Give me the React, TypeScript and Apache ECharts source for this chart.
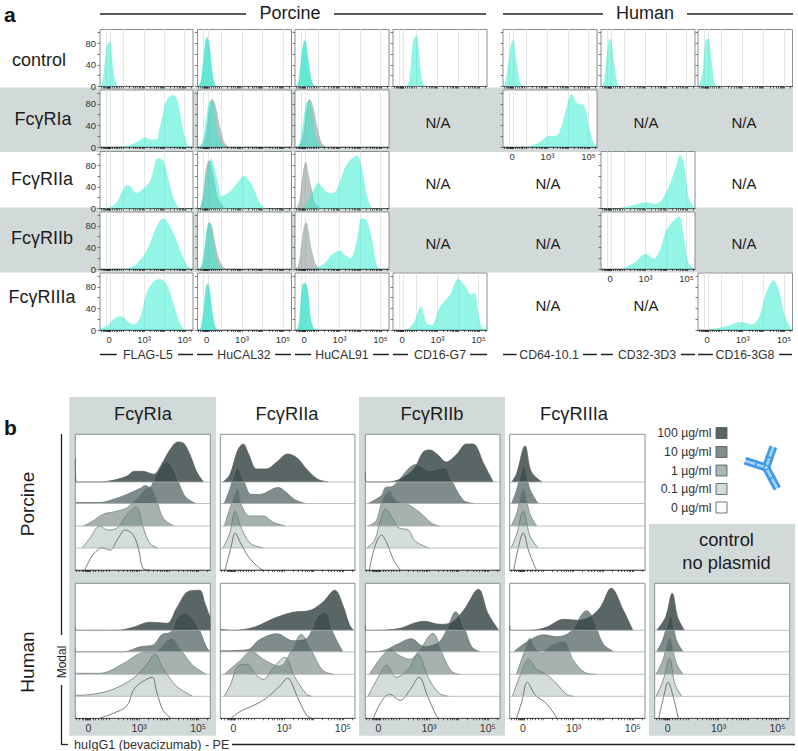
import React, { useEffect, useRef } from "react";
import * as echarts from "echarts";

type Pts = number[][];
const FONT = "Liberation Sans";

// ---------- tick labels / categories ----------
const xTickLabels = ["0", "10³", "10⁵"];
const rowLabelsA = ["control", "FcγRIa", "FcγRIIa", "FcγRIIb", "FcγRIIIa"];
const antibodies = ["FLAG-L5", "HuCAL32", "HuCAL91", "CD16-G7", "CD64-10.1", "CD32-3D3", "CD16-3G8"];
const receptorsB = ["FcγRIa", "FcγRIIa", "FcγRIIb", "FcγRIIIa"];
const doses = ["100 µg/ml", "10 µg/ml", "1 µg/ml", "0.1 µg/ml", "0 µg/ml"];
const yTicksA = [0, 20, 40, 60, 80, 100];
const yLabelsA = [0, 40, 80];

// ---------- panel a, teal = receptor, grey = isotype control ----------
const ctlFlag: Pts = [[0,0],[1,0],[3,12],[5,40],[7,72],[9,80],[11,84],[13,50],[15,22],[17,6],[19,0]];
const ctlCal32: Pts = [[1,0],[2,3],[4,15],[6,45],[8,78],[10,92],[12,85],[14,58],[16,25],[18,7],[20,0]];
const ctlCal91: Pts = [[2,0],[4,12],[6,42],[8,72],[10.5,86],[12,78],[14,52],[16,28],[18,10],[20,2],[22,0]];
const ctlG7: Pts = [[13,0],[15,3],[17,10],[19,38],[21,80],[23,92],[25,94],[27,75],[29,35],[31,12],[33,3],[35,0]];
const ctl64: Pts = [[1.5,0],[3,10],[5,35],[7,60],[9,82],[11,86],[13,65],[15,38],[17,15],[19,3],[21,0]];
const ctl32: Pts = [[1.5,0],[3,8],[5,32],[7,70],[9,88],[10.5,88],[12,72],[14,42],[16,18],[18,3],[20,0]];
const ctl3G8: Pts = [[1,0],[2.5,8],[5,30],[7,68],[9,88],[11,88],[13,68],[15,38],[17,12],[19,2],[21,0]];

const r1Flag: Pts = [[14,0],[25,1],[36,6],[45,15],[49,17.5],[54,14],[61,14],[64,34],[68,62],[71,84],[77,96],[80,96],[84,81],[89,34],[93,9],[96,1],[99,0]];
const r1Cal32: Pts = [[2,0],[5,8],[8,35],[11,72],[13,85],[15,86],[17,78],[19,55],[21,30],[24,12],[27,3],[30,0]];
const r1Cal32Iso: Pts = [[3,0],[6,5],[9,22],[12,60],[14,82],[15.5,89],[18,82],[20,68],[23,42],[26,20],[29,6],[33,0]];
const r1Cal91: Pts = [[2,0],[5,8],[8,38],[11,74],[13,85],[15,84],[17,74],[19,52],[21,28],[24,10],[27,2],[30,0]];
const r1Cal91Iso: Pts = [[3,0],[6,6],[9,24],[12,62],[14,84],[15.5,89],[18,80],[20,66],[23,40],[26,18],[29,5],[33,0]];
const r1_64: Pts = [[18,0],[29,2],[39,9],[48,20],[57,21],[62,37],[68,75],[73,98],[79,81],[86,78],[91,41],[96,9],[100,0]];

const r2Flag: Pts = [[0,0],[11,2.5],[18,11],[23,29],[29,43],[32,42],[39,29],[46,36],[54,51],[59,82],[62,93],[68,89],[73,57],[79,20],[84,2.5],[89,0]];
const r2Cal32: Pts = [[3,1],[7,32],[10,70],[13,89],[14.5,92],[17,82],[21,54],[24,26],[25,23],[35,32],[44,51],[49,61],[54,54],[60,36],[65,14],[70,2.5],[74,0]];
const r2Cal32Iso: Pts = [[3,0],[6,20],[9,70],[12.4,89],[15,76],[19,39],[22,17],[28,2.5],[31,0]];
const r2Cal91: Pts = [[9,0],[14,14],[20,36],[25,48],[28,42],[36,29],[41,29],[48,51],[55,82],[66,98],[71,76],[77,20],[82,1],[85,0]];
const r2Cal91Iso: Pts = [[2,0],[5,14],[8,57],[11.4,86],[14,64],[18,32],[21,11],[27,0]];
const r2_32: Pts = [[17,0],[35,6],[47,11],[58,8],[67,22],[75,53],[81,84],[84,100],[88,84],[93,22],[99,2]];

const r3Flag: Pts = [[25,0],[36,5],[46,23],[54,48],[61,79],[68,94],[73,85],[79,66],[86,36],[93,8],[98,0]];
const r3Cal32: Pts = [[2,0],[4,6],[7,36],[10,76],[12,86],[14,82],[17,50],[20,20],[23,5],[26,0]];
const r3Cal32Iso: Pts = [[3,0],[6,8],[9,50],[11,78],[13,86],[15,80],[18,52],[21,28],[24,12],[27,3],[30,0]];
const r3Cal91: Pts = [[20,0],[23,2],[32,11],[39,26],[48,34],[53,26],[59,20],[66,54],[71,94],[76,91],[82,54],[87,5],[91,0]];
const r3Cal91Iso: Pts = [[1,0],[4,8],[7,44],[10,80],[12,86],[14,72],[16,48],[19,24],[22,8],[25,1],[27,0]];
const r3_32: Pts = [[24,2],[35,11],[48,28],[56,19],[63,36],[70,73],[83,97],[88,60],[93,11],[99,1]];

const r4Flag: Pts = [[0,3],[9,9],[16,22],[23,25],[30,15],[36,10],[43,22],[50,68],[57,89],[64,95],[71,86],[79,49],[86,12],[91,0]];
const r4Cal32: Pts = [[2,0],[4,8],[7,46],[9,80],[11,86],[13,75],[15,46],[17,22],[19,6],[21,0]];
const r4Cal91: Pts = [[2,0],[4,10],[6,50],[8,84],[10.5,87],[13,80],[15,55],[17,20],[20,3],[23,1],[30,0]];
const r4G7: Pts = [[14.6,0],[21.6,12],[29.8,43],[35.8,12],[41,9],[50,43],[60.6,65],[69.5,95],[76.6,82],[83.7,66],[87,69],[90.9,30],[94.4,4],[98,1],[99.8,12]];
const r4_3G8: Pts = [[12,1],[30,7],[46,15],[57,10],[65,25],[72,68],[80,92],[85,77],[92,25],[99,1]];

// ---------- panel b, heights above each ridge's baseline ----------
const pIa100: Pts = [[0,23],[0.7,0],[18,0],[28,1.7],[38,5.7],[44,10.7],[50,10.7],[58,7.7],[64,18],[70,32],[76,40],[80,39],[85,27],[90,10],[95,0]];
const pIa10: Pts = [[0,1],[18,1],[28,4],[38,9],[48,15],[52,18],[55,16],[60,29],[68,42],[73,34],[78,16],[82,6],[89,0]];
const pIa1: Pts = [[6,0],[13,5],[21,12],[28,14],[38,18],[45,27],[55,39],[60,27],[65,8],[73,0]];
const pIa01: Pts = [[5,0],[11,10],[18,22],[24,18],[31,20],[38,33],[45,41],[50,22],[55,5],[61,0]];
const pIa0: Pts = [[7,0],[13,15],[20,22],[26,20],[31,30],[37,40],[43,35],[47,20],[50,2],[55,0]];

const pIIa100: Pts = [[2,0],[7,7],[13,32],[17,38],[21,28],[27,13],[34,13],[42,20],[50,28],[57,24],[64,13],[72,3],[80,0]];
const pIIa10: Pts = [[3,0],[7,14],[13,36],[17,24],[23,9],[29,9],[43,16],[49,11],[55,4],[63,0]];
const pIIa1: Pts = [[3,0],[7,17],[13,37],[16,20],[22,10],[32,10],[39,4],[48,0]];
const pIIa01: Pts = [[2,0],[7,15],[11,37],[15,22],[22,5],[32,0]];
const pIIa0: Pts = [[3.5,0],[8,23],[11,37],[15,27],[21,13],[29,2],[32,0]];

const pIIb100: Pts = [[0,10],[0.7,0],[16,0],[26,3],[36,13],[43,30],[48,32],[54,27],[60,20],[68,28],[75,38],[80,38],[88,18],[95,0]];
const pIIb10: Pts = [[2,0],[12,8],[15,16],[20,17],[26,25],[33,36],[38,39],[48,33],[59,36],[64,23],[73,3],[81,0]];
const pIIb1: Pts = [[2,0],[8,5],[12,23],[15,32],[18,35],[23,25],[31,22],[41,13],[49,3],[55,0]];
const pIIb01: Pts = [[1,0],[7,8],[11,27],[15,39],[20,30],[25,20],[32,18],[37,7],[47,0]];
const pIIb0: Pts = [[3,0],[7,23],[12,35],[16,27],[21,10],[26,0]];

const pIIIa100: Pts = [[1.5,0],[5,8],[11.3,36],[16,10],[24,0]];
const pIIIa10: Pts = [[1.5,0],[5,13],[10.5,37],[15,14],[21,0]];
const pIIIa1: Pts = [[1,0],[5,12],[10,37],[15,12],[20,0]];
const pIIIa01: Pts = [[1,0],[5,13],[10,37],[15,12],[21,0]];
const pIIIa0: Pts = [[3,0],[6,20],[10,37],[14,19],[19,2],[20,0]];

const hIa100: Pts = [[0,3],[0.7,0],[31,0],[43,3],[55,8],[68,7],[75,22],[84,39],[92,40],[96,27],[100,12]];
const hIa10: Pts = [[0,3],[0.7,0],[36,0],[48,5],[58,7],[64,17],[71,20],[75,33],[81,39],[90,27],[97,5],[100,0]];
const hIa1: Pts = [[0,1],[18,1],[36,11],[48,21],[60,23],[71,36],[79,23],[87,9],[97,0]];
const hIa01: Pts = [[0,1],[13,2],[28,7],[43,18],[53,32],[59,42],[65,28],[75,10],[87,0]];
const hIa0: Pts = [[18,0],[28,5],[38,12],[43,28],[48,35],[57,41],[60,28],[65,8],[71,0]];

const hIIa100: Pts = [[0,1],[10,0],[25,3],[40,12],[54,18],[67,20],[76,28],[85,40],[91,25],[96,5],[99,0]];
const hIIa10: Pts = [[0,1],[20,2],[29,12],[42,18],[54,11],[64,13],[72,35],[78,40],[84,18],[91,0]];
const hIIa1: Pts = [[3,0],[15,14],[23,23],[32,15],[44,8],[53,24],[60,40],[68,23],[76,4],[84,0]];
const hIIa01: Pts = [[3,0],[8,13],[13,30],[20,32],[26,22],[32,17],[39,28],[48,39],[55,20],[64,2],[68,0]];
const hIIa0: Pts = [[8,0],[15,7],[25,13],[34,20],[44,32],[50,40],[57,22],[64,3],[68,0]];

const hIIb100: Pts = [[0,5],[0.7,0],[8,0],[26,2],[36,7],[44,9],[55,6],[63,7],[73,20],[84,41],[91,17],[99,0]];
const hIIb10: Pts = [[0,2],[1,0],[13,1],[23,7],[34,13],[44,5],[55,10],[62,27],[67,40],[74,22],[79,5],[85,0]];
const hIIb1: Pts = [[3,0],[13,19],[19,25],[25,19],[33,15],[41,26],[50,41],[58,18],[64,3],[70,0]];
const hIIb01: Pts = [[2,0],[10,20],[16,31],[23,19],[32,27],[39,42],[47,18],[55,3],[62,0]];
const hIIb0: Pts = [[6,0],[12,17],[18,24],[26,18],[33,28],[40,41],[46,23],[53,2],[55,0]];

const hIIIa100: Pts = [[0,5],[0.7,0],[15,0],[27,3],[40,11],[50,10],[59,13],[67,23],[75,42],[84,20],[91,0]];
const hIIIa10: Pts = [[3,0],[13,10],[25,17],[35,15],[45,20],[57,41],[62,32],[69,8],[77,0]];
const hIIIa1: Pts = [[5,0],[11,23],[15,36],[19,26],[24,21],[30,29],[40,33],[47,14],[57,1],[64,0]];
const hIIIa01: Pts = [[2,0],[9,25],[14,37],[20,27],[27,22],[35,12],[42,2],[47,0]];
const hIIIa0: Pts = [[5,0],[9,17],[13,36],[19,23],[27,15],[35,0]];

const ctrl100: Pts = [[1.5,0],[8,13],[13,37],[17,13],[22,0]];
const ctrl10: Pts = [[1.5,0],[6,12],[12,36],[16,12],[21,0]];
const ctrl1: Pts = [[1,0],[6,14],[11,36],[16,11],[21,0]];
const ctrl01: Pts = [[1,0],[6,15],[11,38],[15,12],[20,0]];
const ctrl0: Pts = [[3,0],[6,18],[10,36],[14,20],[17.5,0]];

// ---------- axis positions (share of panel width) ----------
const xTickPos = [9.7, 47.3, 91];
const xGridPos = [6.5, 11, 25, 47.3, 69, 91];
const xTicks = [1, 3, 5, 6, 7, 7.5, 8, 8.5, 9, 9.5, 10, 10.5, 11, 13, 15, 17, 19, 21, 23, 25, 31.6, 35.5, 38.2, 40.4, 42.1, 43.6, 44.9, 46, 47.3, 53.9, 57.8, 60.5, 62.7, 64.4, 65.9, 67.2, 68.3, 69.3, 76, 80, 82.6, 84.8, 86.6, 88, 89.3, 90.4, 91.4, 98];

// ---------- layout ----------
const colXA = [[100, 193], [197.5, 291.5], [295, 389], [393, 487], [503, 597], [601, 695], [698, 792.5]];
const rowYA = [[29.5, 86.5], [90, 147], [151.5, 208.5], [212, 269], [273, 330]];
const colXB = [[75.3, 210.3], [220.3, 355], [365.3, 500], [509.7, 645], [654.7, 789.7]];
const rowYB = [[434.3, 570], [583.3, 718.3]];
const baselines = [88, 66.5, 44, 22, 0];
const BAND = "#d1dad9";
const TEAL = "rgba(40,235,205,0.5)";
const TEAL_STRONG = "rgba(60,225,200,0.78)";
const ISO = "rgba(120,135,135,0.5)";
const doseFill = ["rgba(40,55,55,0.77)", "rgba(50,70,70,0.62)", "rgba(60,85,80,0.45)", "rgba(60,100,90,0.22)", "rgba(255,255,255,0)"];
const doseLine = ["#59615f", "#6a7473", "#7a8684", "#6f7a78", "#555c5b"];
const swatch = ["#5a6464", "#808e8d", "#a9b7b4", "#d2dcda", "#ffffff"];

const panelsA: { c: number; r: number; teal: Pts; iso?: Pts; xl?: boolean; strong?: boolean }[] = [
  { c: 0, r: 0, teal: ctlFlag }, { c: 1, r: 0, teal: ctlCal32, strong: true }, { c: 2, r: 0, teal: ctlCal91, strong: true },
  { c: 3, r: 0, teal: ctlG7 }, { c: 4, r: 0, teal: ctl64 }, { c: 5, r: 0, teal: ctl32 }, { c: 6, r: 0, teal: ctl3G8 },
  { c: 0, r: 1, teal: r1Flag }, { c: 1, r: 1, teal: r1Cal32, iso: r1Cal32Iso }, { c: 2, r: 1, teal: r1Cal91, iso: r1Cal91Iso }, { c: 4, r: 1, teal: r1_64, xl: true },
  { c: 0, r: 2, teal: r2Flag }, { c: 1, r: 2, teal: r2Cal32, iso: r2Cal32Iso }, { c: 2, r: 2, teal: r2Cal91, iso: r2Cal91Iso }, { c: 5, r: 2, teal: r2_32 },
  { c: 0, r: 3, teal: r3Flag }, { c: 1, r: 3, teal: r3Cal32, iso: r3Cal32Iso }, { c: 2, r: 3, teal: r3Cal91, iso: r3Cal91Iso }, { c: 5, r: 3, teal: r3_32, xl: true },
  { c: 0, r: 4, teal: r4Flag, xl: true }, { c: 1, r: 4, teal: r4Cal32, strong: true, xl: true }, { c: 2, r: 4, teal: r4Cal91, strong: true, xl: true },
  { c: 3, r: 4, teal: r4G7, xl: true }, { c: 6, r: 4, teal: r4_3G8, xl: true },
];
const panelsB: { c: number; r: number; curves: Pts[]; xl?: boolean }[] = [
  { c: 0, r: 0, curves: [pIa100, pIa10, pIa1, pIa01, pIa0] },
  { c: 1, r: 0, curves: [pIIa100, pIIa10, pIIa1, pIIa01, pIIa0] },
  { c: 2, r: 0, curves: [pIIb100, pIIb10, pIIb1, pIIb01, pIIb0] },
  { c: 3, r: 0, curves: [pIIIa100, pIIIa10, pIIIa1, pIIIa01, pIIIa0] },
  { c: 0, r: 1, curves: [hIa100, hIa10, hIa1, hIa01, hIa0], xl: true },
  { c: 1, r: 1, curves: [hIIa100, hIIa10, hIIa1, hIIa01, hIIa0], xl: true },
  { c: 2, r: 1, curves: [hIIb100, hIIb10, hIIb1, hIIb01, hIIb0], xl: true },
  { c: 3, r: 1, curves: [hIIIa100, hIIIa10, hIIIa1, hIIIa01, hIIIa0], xl: true },
  { c: 4, r: 1, curves: [ctrl100, ctrl10, ctrl1, ctrl01, ctrl0], xl: true },
];

function buildOption() {
  const grid: any[] = [], xAxis: any[] = [], yAxis: any[] = [], series: any[] = [];
  const g: any[] = [];
  const txt = (text: string, x: number, y: number, fontSize: number, extra: any = {}, el: any = {}) =>
    g.push({ type: "text", x, y, z: 5, ...el, style: { text, fontSize, fontFamily: FONT, fill: "#1c1c1c", textAlign: "center", textVerticalAlign: "middle", ...extra } });
  const ln = (x1: number, y1: number, x2: number, y2: number, lineWidth = 1.3) =>
    g.push({ type: "line", z: 5, shape: { x1, y1, x2, y2 }, style: { stroke: "#222", lineWidth } });
  const band = (x: number, y: number, w: number, h: number) =>
    g.push({ type: "rect", z: -10, shape: { x, y, width: w, height: h }, style: { fill: BAND } });

  band(0, 87.5, 793, 64.5);
  band(0, 207.5, 793, 65);
  band(69.3, 397, 146.7, 338.7);
  band(359, 397, 146, 338.7);
  band(649, 524, 146, 211.7);

  const addAxes = (x0: number, x1: number, y0: number, y1: number, yMax: number, xl: boolean, yTicks: number[] | null, yLabels: number[] | null, labelSize: number, margin: number) => {
    const i = grid.length;
    grid.push({ left: x0, top: y0, width: x1 - x0, height: y1 - y0, show: true, backgroundColor: "#fff", borderColor: "#8b8f8f", borderWidth: 1 });
    xAxis.push({
      type: "value", gridIndex: i, min: 0, max: 100, splitLine: { show: false },
      axisLine: { show: true, onZero: false, lineStyle: { color: "#555", width: 1 } },
      axisTick: { show: true, customValues: xTicks, length: 2, lineStyle: { color: "#222", width: 0.7 } },
      axisLabel: { show: xl, customValues: xTickPos, margin, fontSize: labelSize, fontFamily: FONT, color: "#333", hideOverlap: false,
        formatter: (v: number) => xTickLabels[xTickPos.indexOf(v)] ?? "" },
    });
    yAxis.push({
      type: "value", gridIndex: i, min: 0, max: yMax, splitLine: { show: false }, show: !!yTicks,
      axisLine: { show: false },
      axisTick: yTicks ? { show: true, customValues: yTicks, length: 2.5, lineStyle: { color: "#444", width: 0.7 } } : { show: false },
      axisLabel: yLabels ? { show: true, customValues: yLabels, margin: 4, fontSize: 9.5, fontFamily: FONT, color: "#333" } : { show: false },
    });
    return i;
  };
  const lineSer = (i: number, data: Pts, fill: string, line: string, w: number, origin: number, z: number, extra: any = {}) =>
    series.push({
      type: "line", xAxisIndex: i, yAxisIndex: i, data, showSymbol: false, smooth: 0.35, z, silent: true,
      lineStyle: { color: line, width: w }, areaStyle: { color: fill, origin, opacity: 1 }, ...extra,
    });

  // panel a
  for (const p of panelsA) {
    const i = addAxes(colXA[p.c][0], colXA[p.c][1], rowYA[p.r][0], rowYA[p.r][1], 106, !!p.xl, yTicksA, p.c === 0 ? yLabelsA : null, 9.5, 4);
    const gridLines = {
      silent: true, symbol: "none", z: 1, label: { show: false }, animation: false,
      lineStyle: { color: "#e3e7e6", width: 1, type: "solid" }, data: xGridPos.map((v) => ({ xAxis: v })),
    };
    const fill = p.strong ? TEAL_STRONG : TEAL;
    if (p.iso) {
      lineSer(i, p.iso, ISO, "rgba(120,135,135,0.6)", 0.5, 0, 3, { markLine: gridLines });
      lineSer(i, p.teal, fill, "rgba(0,219,183,0.2)", 0.3, 0, 4);
    } else {
      lineSer(i, p.teal, fill, "rgba(0,219,183,0.2)", 0.3, 0, 4, { markLine: gridLines });
    }
  }
  // panel b
  for (const p of panelsB) {
    const i = addAxes(colXB[p.c][0], colXB[p.c][1], rowYB[p.r][0], rowYB[p.r][1], rowYB[p.r][1] - rowYB[p.r][0], !!p.xl, null, null, 10.5, 4);
    p.curves.forEach((pts, k) => {
      const base = baselines[k];
      if (k < 4) {
        series.push({
          type: "line", xAxisIndex: i, yAxisIndex: i, data: [[0, base], [100, base]], showSymbol: false, z: 8, silent: true,
          lineStyle: { color: "#a9aeae", width: 0.8 },
        });
      }
      lineSer(i, pts.map(([x, h]) => [x, base + h]), doseFill[k], doseLine[k], 0.8, base, 3 + k);
    });
  }

  // texts panel a
  txt("a", 4, 14, 21, { fontWeight: "bold", textAlign: "left", fill: "#111" });
  txt("b", 4, 427, 21, { fontWeight: "bold", textAlign: "left", fill: "#111" });
  txt("Porcine", 290, 13, 18);
  txt("Human", 645, 13, 18);
  ln(100, 14, 246, 14); ln(334, 14, 486, 14); ln(503, 14, 603, 14); ln(687, 14, 793, 14);
  [[39, 60], [43, 119], [42, 179], [42, 238], [42, 297]].forEach(([x, y], i) => txt(rowLabelsA[i], x, y, 18));
  const na = [[438, 122], [438, 183], [438, 243], [548, 183], [548, 243], [548, 305], [646, 122], [646, 305], [744, 122], [744, 183], [744, 243]];
  na.forEach(([x, y]) => txt("N/A", x, y, 15));
  const abCenters = [148, 244, 342, 440, 549, 647, 745];
  const abLines = [[100, 116.7, 178, 193], [197, 213, 275, 291], [295, 311, 373, 389], [393, 408, 470, 487], [503, 516.7, 583, 597], [601, 613, 681, 695], [698, 713, 779, 792]];
  antibodies.forEach((t, i) => {
    txt(t, abCenters[i], 355, 12.3, { fill: "#333" });
    ln(abLines[i][0], 354.5, abLines[i][1], 354.5, 1.5);
    ln(abLines[i][2], 354.5, abLines[i][3], 354.5, 1.5);
  });

  // texts panel b
  [143, 287, 432, 574].forEach((x, i) => txt(receptorsB[i], x, 413, 18.3));
  txt("control", 726.5, 539, 18.3);
  txt("no plasmid", 726.5, 562, 18.3);
  txt("Porcine", 27, 504, 19, {}, { rotation: Math.PI / 2 });
  txt("Human", 27, 662, 19, {}, { rotation: Math.PI / 2 });
  txt("Modal", 62, 662, 12, {}, { rotation: Math.PI / 2 });
  ln(61.5, 434, 61.5, 635); ln(61.5, 685, 61.5, 744.5); ln(61, 744.5, 68, 744.5);
  ln(232, 744.5, 795, 744.5);
  txt("huIgG1 (bevacizumab) - PE", 74, 745, 12.6, { textAlign: "left", fill: "#333" });

  // legend
  [433, 452, 470.5, 489, 507.5].forEach((y, i) => {
    txt(doses[i], 711.5, y, 12.3, { textAlign: "right", fill: "#333" });
    g.push({ type: "rect", z: 5, shape: { x: 716, y: y - 5.5, width: 11, height: 11 }, style: { fill: swatch[i], stroke: "#4d5555", lineWidth: 0.8 } });
  });
  // antibody icon
  [-0.34, 1.26, -2.65].forEach((rotation) => {
    const blue = "#3f97ea";
    const len = rotation === -2.65 ? 24 : 22;
    g.push({
      type: "group", x: 766, y: 467.5, rotation, z: 5,
      children: [
        { type: "rect", z: 5, shape: { x: -3.4, y: -len, width: 7, height: len - 1 }, style: { fill: "#a6d2f7" } },
        { type: "rect", z: 5, shape: { x: -4, y: -len, width: 2.6, height: len - 1 }, style: { fill: blue } },
        { type: "rect", z: 5, shape: { x: 1.4, y: -len, width: 2.6, height: len - 1 }, style: { fill: blue } },
        { type: "rect", z: 5, shape: { x: -4, y: -len * 0.52, width: 8, height: 1.6 }, style: { fill: blue } },
        { type: "rect", z: 5, shape: { x: -4, y: -2.5, width: 8, height: 1.6 }, style: { fill: blue } },
      ],
    });
  });

  return { animation: false, backgroundColor: "#fff", grid, xAxis, yAxis, series, graphic: { elements: g } };
}

export default function App() {
  const ref = useRef<HTMLDivElement>(null);
  useEffect(() => {
    const chart = echarts.init(ref.current!, undefined, { renderer: "svg" });
    chart.setOption(buildOption() as any);
    return () => chart.dispose();
  }, []);
  return <div ref={ref} style={{ position: "absolute", left: 0, top: 0, width: 798, height: 751 }} />;
}
